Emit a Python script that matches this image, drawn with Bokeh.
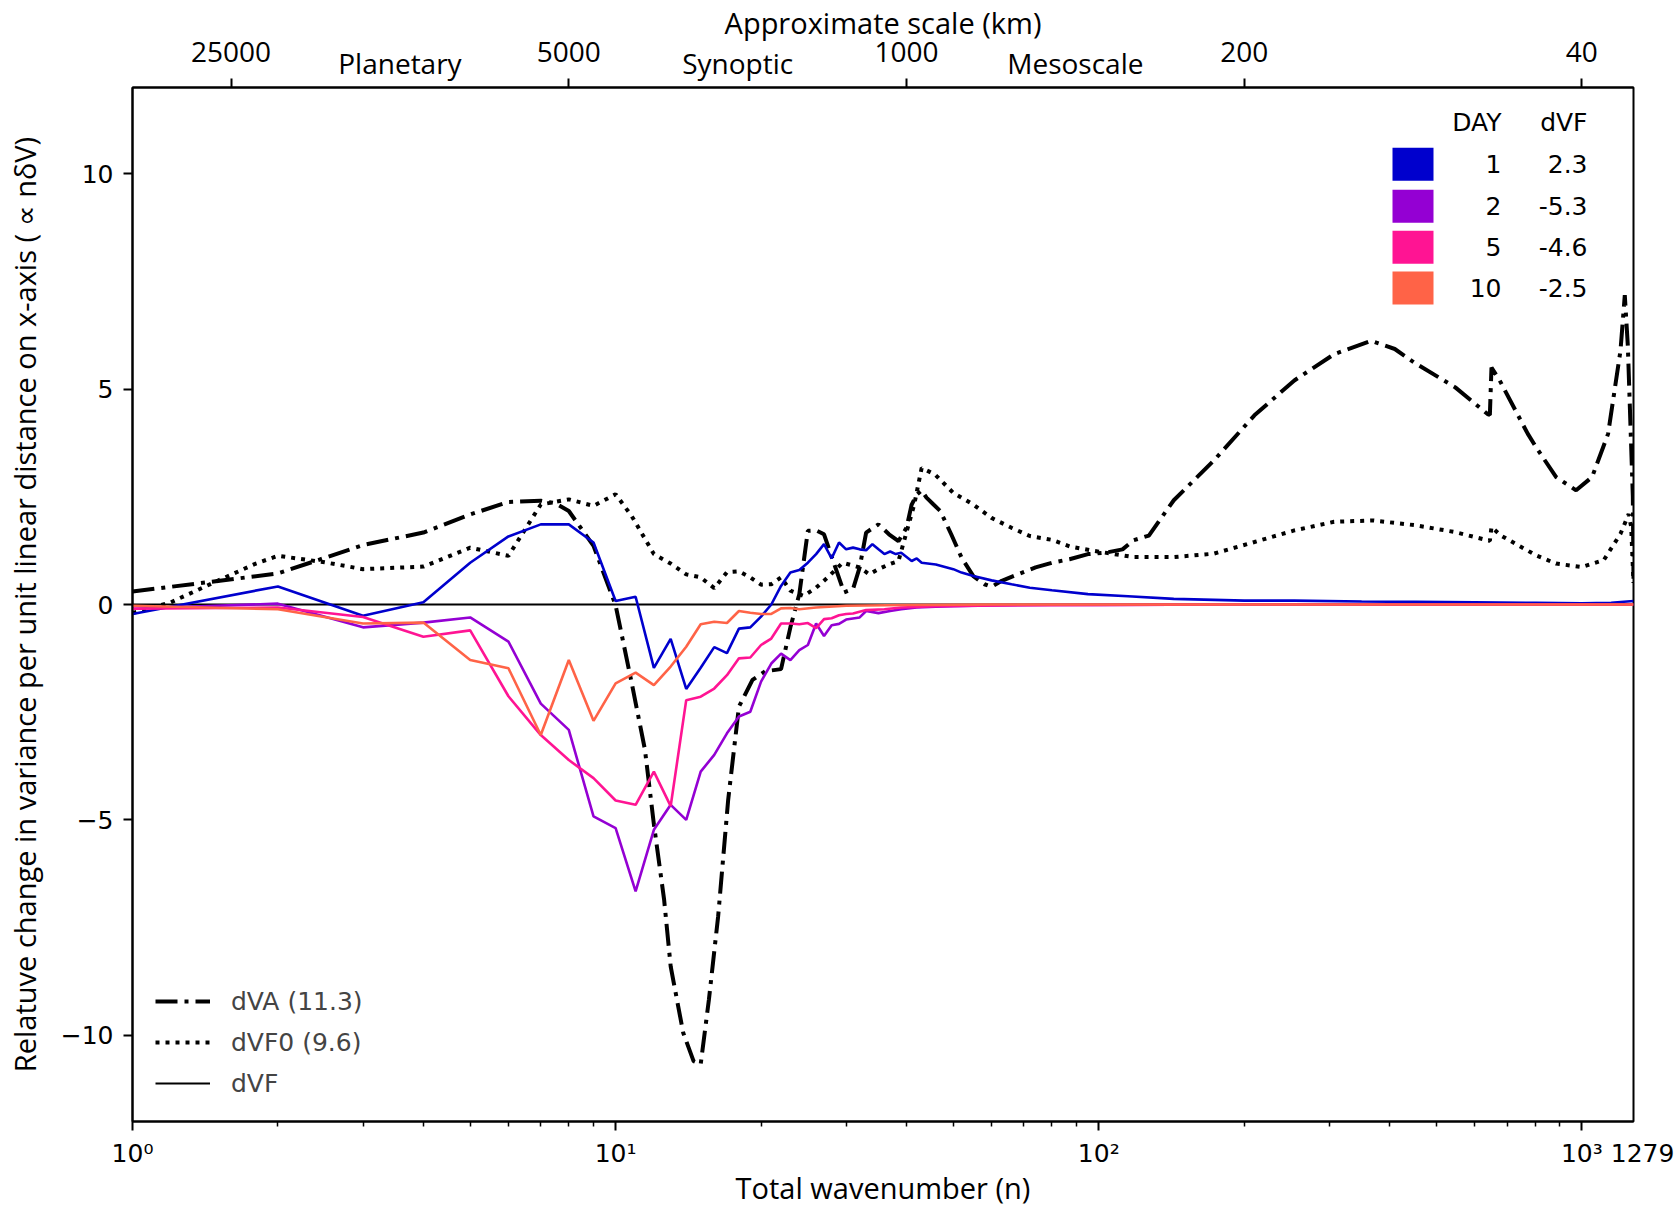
import math
from bokeh.plotting import figure
from bokeh.models import (Range1d, LinearAxis, FixedTicker, Label, Legend, LegendItem)
from bokeh.embed import file_html
from bokeh.resources import INLINE

# ---------------- data ----------------
N_MAX = 1279
Y_MIN, Y_MAX = -12, 12

# day 1 (dVF = 2.3)
n_d1 = [1, 2, 3, 4, 5, 6, 7, 8, 9, 10, 11, 12, 13, 14, 15, 16, 17, 18, 19, 20,
        21, 22, 23, 24, 25, 26, 27, 28, 29, 30, 31, 32, 33, 34, 35, 36, 37, 38, 39,
        41, 42, 43, 46, 50, 52, 55, 60, 66, 72, 80, 95, 115, 143, 200, 254, 350,
        452, 600, 803, 1000, 1150, 1279]
v_d1 = [-0.22, 0.42, -0.26, 0.05, 0.97, 1.58, 1.86, 1.86, 1.44, 0.08, 0.18, -1.47,
        -0.80, -1.96, -1.47, -0.99, -1.13, -0.56, -0.53, -0.28, 0.0, 0.43, 0.74,
        0.80, 0.97, 1.17, 1.40, 1.07, 1.44, 1.28, 1.32, 1.28, 1.26, 1.40, 1.28,
        1.17, 1.23, 1.17, 1.20, 1.01, 1.07, 0.97, 0.93, 0.82, 0.74, 0.66, 0.56,
        0.47, 0.39, 0.33, 0.24, 0.19, 0.13, 0.09, 0.09, 0.07, 0.06, 0.05, 0.04,
        0.03, 0.04, 0.08]

# day 2 (dVF = -5.3)
n_d2 = [1, 2, 3, 4, 5, 6, 7, 8, 9, 10, 11, 12, 13, 14, 15, 16, 17, 18, 19, 20,
        21, 22, 23, 24, 25, 26, 27, 28, 29, 30, 32, 33, 35, 37, 39, 42, 46, 50,
        60, 80, 100, 200, 500, 1000, 1279]
v_d2 = [-0.10, 0.02, -0.53, -0.42, -0.30, -0.86, -2.30, -2.91, -4.92, -5.19,
        -6.66, -5.23, -4.65, -5.00, -3.88, -3.49, -2.99, -2.60, -2.49, -1.79,
        -1.37, -1.14, -1.29, -1.06, -0.94, -0.44, -0.73, -0.48, -0.45, -0.35,
        -0.30, -0.15, -0.20, -0.15, -0.11, -0.07, -0.05, -0.04, -0.02, -0.01,
        -0.01, 0.0, 0.0, 0.0, 0.0]

# day 5 (dVF = -4.6)
n_d5 = [1, 2, 3, 4, 5, 6, 7, 8, 9, 10, 11, 12, 13, 14, 15, 16, 17, 18, 19, 20,
        21, 22, 23, 24, 25, 26, 27, 28, 29, 30, 31, 33, 36, 39, 46, 60, 100, 200,
        1279]
v_d5 = [-0.10, -0.07, -0.29, -0.75, -0.60, -2.13, -3.03, -3.61, -4.03, -4.55,
        -4.65, -3.88, -4.68, -2.22, -2.14, -1.95, -1.64, -1.25, -1.23, -0.94,
        -0.79, -0.44, -0.44, -0.46, -0.43, -0.55, -0.34, -0.32, -0.25, -0.22,
        -0.21, -0.13, -0.11, -0.07, -0.04, -0.02, -0.01, 0.0, 0.0]

# day 10 (dVF = -2.5)
n_d10 = [1, 2, 3, 4, 5, 6, 7, 8, 9, 10, 11, 12, 13, 14, 15, 16, 17, 18, 19, 20,
         21, 22, 23, 24, 26, 30, 40, 60, 100, 1279]
v_d10 = [-0.03, -0.11, -0.44, -0.42, -1.29, -1.48, -3.03, -1.29, -2.70, -1.83,
         -1.58, -1.87, -1.44, -0.98, -0.46, -0.40, -0.43, -0.15, -0.19, -0.22,
         -0.22, -0.09, -0.08, -0.11, -0.07, -0.03, -0.01, 0.0, 0.0, 0.0]

# dVA (11.3)
n_dva = [1, 2, 3, 4, 5, 6, 7, 7.5, 8, 9, 10, 10.8, 11.5, 12, 12.6, 13, 13.8, 14.5,
         15, 15.6, 16.3, 17.1, 18, 19.2, 20.4, 22, 23, 24, 25, 26, 27, 28.5, 29.7,
         31, 32, 33, 35, 36.8, 38.5, 40, 41, 42, 43, 44, 45.5, 47, 49.5, 52, 55,
         58, 60, 63, 68, 74, 80, 87, 95, 103, 112, 118, 127, 143, 173, 210, 254,
         307, 366, 410, 452, 547, 638, 645, 650, 676, 729, 773, 804, 884, 973,
         1050, 1133, 1202, 1227, 1245, 1262, 1275, 1279]
v_dva = [0.30, 0.72, 1.38, 1.67, 2.09, 2.38, 2.41, 2.35, 2.17, 1.36, -0.02, -1.83,
         -3.37, -5.10, -6.85, -8.40, -9.94, -10.60, -10.67, -9.17, -7.24, -4.53,
         -2.37, -1.75, -1.55, -1.50, -0.53, 0.24, 1.71, 1.72, 1.63, 0.86, 0.28,
         0.36, 0.86, 1.67, 1.86, 1.63, 1.47, 1.78, 2.32, 2.55, 2.65, 2.48, 2.32,
         2.17, 1.63, 1.09, 0.66, 0.47, 0.41, 0.55, 0.70, 0.86, 0.97, 1.05, 1.17,
         1.20, 1.28, 1.49, 1.60, 2.42, 3.34, 4.39, 5.20, 5.81, 6.12, 5.93, 5.60,
         5.04, 4.42, 4.40, 5.50, 5.20, 4.50, 3.96, 3.65, 2.96, 2.65, 2.96, 3.96,
         5.89, 7.18, 6.00, 4.00, 2.50, 0.60]

# dVF0 (9.6)
n_dvf0 = [1, 1.2, 1.5, 1.8, 2, 2.5, 3, 4, 5, 6, 7, 8, 9, 10, 10.8, 12, 13, 14, 15,
          16, 17, 18, 19, 20, 21, 22, 23, 24.5, 26, 27.5, 29.5, 32, 33.5, 35, 36.8,
          38.5, 41.5, 43, 45.8, 50, 55, 60, 66, 72, 80, 87, 97, 118, 143, 173,
          210, 254, 307, 370, 452, 547, 638, 645, 650, 680, 729, 804, 884, 1000,
          1110, 1202, 1250, 1265, 1279]
v_dvf0 = [-0.20, 0.05, 0.55, 0.95, 1.13, 0.98, 0.82, 0.88, 1.32, 1.13, 2.32, 2.44,
          2.29, 2.56, 2.05, 1.17, 0.95, 0.70, 0.63, 0.38, 0.75, 0.77, 0.63, 0.46,
          0.47, 0.63, 0.32, 0.20, 0.39, 0.63, 0.97, 0.86, 0.70, 0.82, 0.93, 1.01,
          2.32, 3.17, 3.02, 2.59, 2.32, 2.01, 1.78, 1.59, 1.50, 1.35, 1.25, 1.10,
          1.10, 1.18, 1.45, 1.72, 1.92, 1.95, 1.84, 1.68, 1.49, 1.48, 1.80, 1.60,
          1.41, 1.14, 0.95, 0.87, 1.03, 1.64, 2.10, 1.80, 0.50]

days = ["1", "2", "5", "10"]
day_dvf = ["2.3", "-5.3", "-4.6", "-2.5"]
day_colors = ["#0000CD", "#9400D3", "#FF1493", "#FF6347"]

x_ticks = [1, 10, 100, 1000]
x_tick_labels = ["10\u2070", "10\u00b9", "10\u00b2", "10\u00b3"]
y_ticks = [-10, -5, 0, 5, 10]
y_tick_labels = ["\u221210", "\u22125", "0", "5", "10"]
km_ticks = [25000, 5000, 1000, 200, 40]
EARTH_KM = 40000  # n = 40000 / km
regions = ["Planetary", "Synoptic", "Mesoscale"]

# ---------------- figure ----------------
FW, FH = 1501, 1036
LX = math.log10(N_MAX)


def xd(px):  # pixel offset from frame left -> data x (log)
    return 10 ** (px / FW * LX)


def yd(py):  # pixel offset from frame top -> data y
    return Y_MAX - py / FH * (Y_MAX - Y_MIN)


p = figure(x_axis_type="log", x_range=Range1d(1, N_MAX), y_range=Range1d(Y_MIN, Y_MAX),
           width=1680, height=1211, output_backend="svg", toolbar_location=None,
           min_border_left=132, min_border_right=47, min_border_top=85, min_border_bottom=90,
           background_fill_color="white", border_fill_color="white")
p.xgrid.visible = False
p.ygrid.visible = False
p.outline_line_color = "black"
p.outline_line_width = 2
p.outline_line_alpha = 1

TICK_FONT = "DejaVu Sans"
TITLE_FONT = "Open Sans"

# bottom axis; the maximum wavenumber is written after the last tick label
pad = "\u2008" + "\u2007" * len(str(N_MAX))   # same width as " 1279", keeps 10^3 centred
x_tick_labels[-1] = pad + x_tick_labels[-1] + " " + str(N_MAX)
xa = p.xaxis[0]
minor = [m * d for d in (1, 10, 100) for m in range(2, 10)]
xa.ticker = FixedTicker(ticks=x_ticks, minor_ticks=minor)
xa.major_label_overrides = {t: s for t, s in zip(x_ticks, x_tick_labels)}
xa.axis_label = "Total wavenumber (n)"
ya = p.yaxis[0]
ya.ticker = FixedTicker(ticks=y_ticks)
ya.major_label_overrides = {t: s for t, s in zip(y_ticks, y_tick_labels)}
ya.axis_label = "Relatuve change in variance per unit linear distance on x-axis ( \u221d n\u03b4V)"
ya.axis_label_standoff = 14

# top scale axis: labels on major ticks (no marks), marks on minor ticks at km positions
km_pos = [EARTH_KM / k for k in km_ticks]
reg_pos = [EARTH_KM / math.sqrt(a * b) for a, b in zip(km_ticks[:3], km_ticks[1:4])]
top_over = {EARTH_KM / k: str(k) + "\n " for k in km_ticks}
top_over.update({pos: name for pos, name in zip(reg_pos, regions)})
top = LinearAxis(ticker=FixedTicker(ticks=km_pos + reg_pos, minor_ticks=km_pos),
                 major_label_overrides=top_over, axis_label="Approximate scale (km)")
p.add_layout(top, "above")

for ax in (xa, ya, top):
    ax.axis_line_width = 2
    ax.axis_line_color = "black"
    ax.major_tick_out = 9
    ax.major_tick_in = 0
    ax.minor_tick_out = 5
    ax.minor_tick_in = 0
    ax.major_tick_line_width = 2
    ax.minor_tick_line_width = 1.5
    ax.major_label_text_color = "black"
    ax.major_label_text_font = TICK_FONT
    ax.major_label_text_font_size = "25px"
    ax.major_label_standoff = 8
    ax.axis_label_text_font = TITLE_FONT
    ax.axis_label_text_font_size = "29px"
    ax.axis_label_text_font_style = "normal"
    ax.axis_label_text_color = "black"
    ax.axis_label_text_line_height = 1.0
xa.axis_label_standoff = -3
ya.major_label_standoff = 10
top.major_tick_out = 0
top.minor_tick_out = 9
top.minor_tick_line_width = 2
top.major_label_text_font = TITLE_FONT
top.major_label_text_font_size = "28px"
top.major_label_text_line_height = 0.3
top.major_label_standoff = -3
top.axis_label_text_line_height = 0.75
top.axis_label_standoff = -13

# zero line (also the "dVF" legend entry)
r_dvf = p.hspan(y=[0], line_color="black", line_width=2.2)

# black reference curves
r_dva = p.line(n_dva, v_dva, line_color="black", line_width=4, line_dash="22 7 4 7")
r_dvf0 = p.line(n_dvf0, v_dvf0, line_color="black", line_width=4, line_dash="4 6")

# coloured day curves
for nn, vv, c in zip([n_d1, n_d2, n_d5, n_d10], [v_d1, v_d2, v_d5, v_d10], day_colors):
    p.line(nn, vv, line_color=c, line_width=2.6)

legend = Legend(items=[LegendItem(label="dVA (11.3)", renderers=[r_dva]),
                       LegendItem(label="dVF0 (9.6)", renderers=[r_dvf0]),
                       LegendItem(label="dVF", renderers=[r_dvf])],
                location=(23, 18), padding=0, margin=0, spacing=1,
                glyph_width=55, glyph_height=40, label_height=40, label_standoff=21,
                border_line_color=None, background_fill_alpha=0,
                label_text_font=TICK_FONT, label_text_font_size="25px")
p.add_layout(legend, "center")


def lab(x, y, text, align="right"):
    p.add_layout(Label(x=x, y=y, text=text, text_align=align, text_baseline="middle",
                       text_font=TICK_FONT, text_font_size="25px", text_color="black"))


# table legend (top right)
lab(xd(1369), yd(35), "DAY")
lab(xd(1455), yd(35), "dVF")
rows_py = [77, 119, 160, 201]
p.rect(x=[xd(1280.5)] * 4, y=[yd(r) for r in rows_py], width=41, height=33,
       width_units="screen", height_units="screen", fill_color=day_colors, line_color=None)
for r, d, v in zip(rows_py, days, day_dvf):
    lab(xd(1369), yd(r), d)
    lab(xd(1455), yd(r), v)

open("out.html", "w").write(file_html(p, INLINE))
